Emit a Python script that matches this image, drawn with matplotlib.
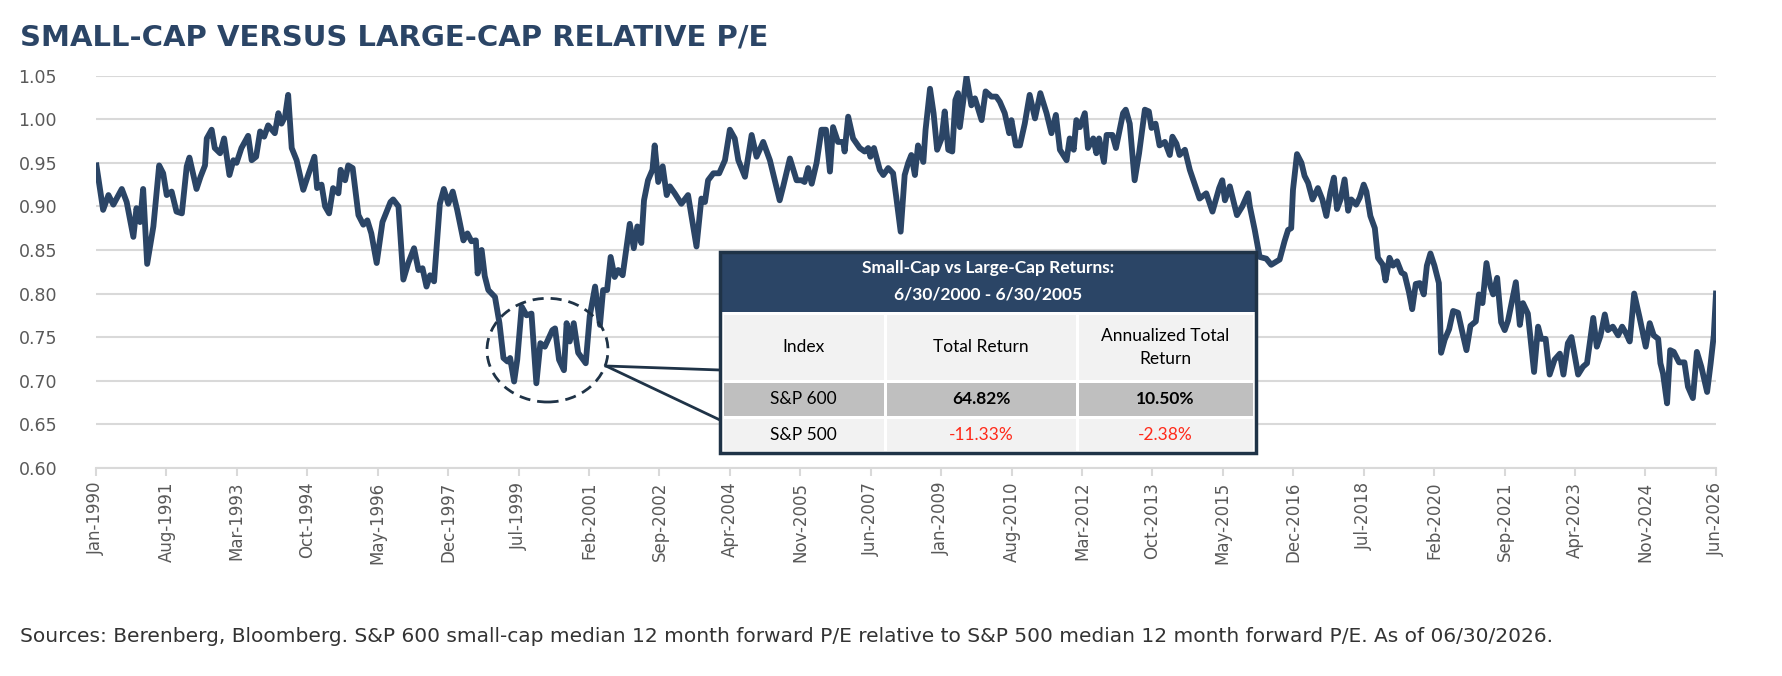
import matplotlib
matplotlib.use("Agg")
import matplotlib.pyplot as plt
from matplotlib.patches import Rectangle, Ellipse

years = [1990.01,1990.16,1990.28,1990.39,1990.58,1990.69,1990.84,1990.91,1990.99,1991.06,1991.15,1991.29,1991.42,1991.51,1991.59,1991.70,1991.81,1991.93,1992.04,1992.10,1992.26,1992.35,1992.45,1992.49,1992.60,1992.67,1992.79,1992.88,1993.00,1993.09,1993.16,1993.27,1993.42,1993.50,1993.60,1993.69,1993.78,1993.87,1994.02,1994.10,1994.17,1994.25,1994.32,1994.40,1994.51,1994.66,1994.77,1994.91,1994.97,1995.07,1995.15,1995.24,1995.33,1995.45,1995.50,1995.60,1995.67,1995.77,1995.90,1996.01,1996.10,1996.19,1996.31,
1996.44,1996.62,1996.68,1996.80,1996.91,1997.02,1997.15,1997.25,1997.34,1997.43,1997.51,1997.60,1997.73,1997.82,1997.92,1998.02,1998.12,1998.26,1998.35,1998.44,1998.54,1998.58,1998.67,1998.74,1998.82,1998.97,1999.07,1999.16,1999.25,1999.31,1999.40,1999.47,1999.57,1999.68,1999.79,1999.90,1999.99,2000.09,2000.26,2000.32,2000.41,2000.52,2000.58,2000.65,2000.74,2000.84,2001.01,2001.10,2001.22,2001.33,2001.40,2001.49,2001.57,2001.66,2001.74,2001.84,2001.93,2002.00,2002.09,2002.17,2002.26,2002.32,2002.41,2002.51,2002.56,2002.64,2002.74,2002.83,
2002.90,2003.01,2003.16,2003.31,2003.50,2003.61,2003.69,2003.76,2003.88,2004.01,2004.14,2004.25,2004.36,2004.44,2004.59,2004.74,2004.85,2005.00,2005.15,2005.26,2005.37,2005.45,2005.60,2005.75,2005.86,2005.93,2006.01,2006.09,2006.20,2006.31,2006.41,2006.50,2006.57,2006.68,2006.80,2006.83,2006.91,2007.02,2007.17,2007.28,2007.36,2007.41,2007.49,2007.62,2007.70,2007.81,2007.92,2007.99,2008.09,2008.18,2008.26,2008.33,2008.41,2008.48,2008.60,2008.65,2008.75,2008.83,2008.91,2009.01,2009.08,2009.16,2009.25,2009.32,2009.38,
2009.42,2009.57,2009.68,2009.76,2009.91,2010.00,2010.13,2010.24,2010.32,2010.43,2010.53,2010.58,2010.68,2010.77,2010.88,2010.99,2011.11,2011.23,2011.37,2011.48,2011.58,2011.67,2011.82,2011.89,2011.98,2012.04,2012.12,2012.23,2012.30,2012.42,2012.49,2012.55,2012.66,2012.72,2012.85,2012.93,2013.09,2013.15,2013.24,2013.35,2013.45,2013.58,2013.67,2013.73,2013.82,2013.91,2014.03,2014.14,2014.20,2014.29,2014.36,2014.48,2014.59,2014.81,2014.96,2015.10,2015.25,2015.32,2015.38,2015.49,2015.65,2015.77,2015.90,
2015.94,2016.05,2016.16,2016.31,2016.42,2016.61,2016.72,2016.80,2016.87,2016.91,2017.00,2017.10,2017.17,2017.25,2017.35,2017.47,2017.57,2017.66,2017.75,2017.83,2017.90,2017.98,2018.07,2018.15,2018.22,2018.33,2018.41,2018.50,2018.56,2018.65,2018.75,2018.82,2018.93,2018.99,2019.08,2019.16,2019.25,2019.35,2019.42,2019.52,2019.59,2019.67,2019.76,2019.85,2019.92,2020.00,2020.09,2020.19,2020.24,2020.32,2020.42,2020.51,2020.62,2020.72,2020.81,2020.90,2021.02,2021.09,2021.17,2021.26,2021.35,2021.41,2021.50,2021.59,
2021.67,2021.745,2021.92,2022.01,2022.08,2022.19,2022.33,2022.42,2022.49,2022.59,2022.68,2022.79,2022.91,2022.99,2023.09,2023.17,2023.32,2023.43,2023.52,2023.66,2023.74,2023.82,2023.92,2023.99,2024.10,2024.22,2024.31,2024.40,2024.48,2024.58,2024.70,2024.84,2024.93,2025.02,2025.12,2025.17,2025.23,2025.32,2025.39,2025.47,2025.59,2025.71,2025.79,2025.90,2025.99,2026.09,2026.22,2026.30,2026.37,2026.42]

values = [.947,.896,.913,.902,.92,.905,.865,.898,.882,.92,.834,.877,.947,.938,.913,.917,.894,.892,.946,.956,.92,.934,.947,.978,.988,.967,.961,.978,.936,.953,.95,.967,.981,.953,.957,.986,.98,.993,.984,1.007,.995,1.003,1.028,.967,.953,.919,.936,.957,.921,.925,.90,.892,.921,.915,.942,.93,.947,.944,.89,.879,.884,.869,.835,
.882,.905,.908,.90,.816,.835,.852,.827,.829,.808,.821,.814,.903,.92,.903,.917,.896,.861,.869,.86,.861,.823,.85,.82,.804,.796,.766,.726,.722,.726,.699,.724,.785,.775,.777,.697,.743,.739,.758,.76,.724,.712,.766,.745,.766,.732,.72,.774,.808,.764,.804,.804,.842,.819,.827,.821,.854,.88,.852,.877,.858,.907,.93,.942,.97,.928,.946,.913,
.923,.915,.903,.913,.854,.909,.905,.93,.938,.938,.953,.988,.978,.953,.934,.982,.957,.974,.953,.93,.907,.923,.955,.93,.93,.928,.944,.926,.95,.988,.988,.94,.991,.974,.974,.963,1.003,.978,.967,.963,.967,.957,.967,.942,.936,.944,.938,.911,.871,.936,.95,.959,.936,.97,.951,.988,1.035,1.007,.965,.978,1.009,.965,.963,1.022,1.03,
.991,1.049,1.016,1.024,.999,1.032,1.026,1.026,1.02,1.007,.984,.999,.97,.97,.995,1.028,1.001,1.03,1.007,.984,1.005,.965,.953,.978,.965,.999,.991,1.007,.967,.978,.961,.978,.951,.982,.982,.967,1.007,1.011,.995,.93,.961,1.011,1.009,.99,.995,.97,.974,.959,.98,.972,.959,.965,.942,.909,.915,.894,.921,.93,.907,.923,.89,.90,.915,
.90,.873,.842,.84,.833,.839,.86,.873,.875,.919,.96,.95,.935,.927,.908,.921,.908,.889,.916,.933,.897,.908,.931,.895,.908,.902,.91,.925,.917,.889,.875,.841,.833,.815,.841,.832,.837,.824,.822,.801,.782,.811,.812,.799,.832,.846,.832,.812,.732,.747,.759,.78,.778,.755,.735,.763,.768,.799,.789,.835,.808,.799,.818,.767,
.758,.769,.813,.764,.789,.777,.71,.762,.748,.748,.707,.724,.731,.707,.743,.75,.707,.716,.72,.772,.739,.751,.776,.758,.762,.752,.762,.754,.745,.80,.773,.739,.766,.752,.748,.72,.708,.674,.735,.733,.721,.721,.693,.68,.733,.716,.687,.72,.752,.80]

tick_pos = [1990 + 19 * k / 12 for k in range(24)]
tick_labels = ["Jan-1990","Aug-1991","Mar-1993","Oct-1994","May-1996","Dec-1997","Jul-1999","Feb-2001",
               "Sep-2002","Apr-2004","Nov-2005","Jun-2007","Jan-2009","Aug-2010","Mar-2012","Oct-2013",
               "May-2015","Dec-2016","Jul-2018","Feb-2020","Sep-2021","Apr-2023","Nov-2024","Jun-2026"]
y_ticks = [0.60,0.65,0.70,0.75,0.80,0.85,0.90,0.95,1.00,1.05]

table_title = ["Small-Cap vs Large-Cap Returns:", "6/30/2000 - 6/30/2005"]
table_header = ["Index", "Total Return", "Annualized Total\nReturn"]
table_rows = [["S&P 600", "64.82%", "10.50%"], ["S&P 500", "-11.33%", "-2.38%"]]

W, H = 1782, 676
fig = plt.figure(figsize=(W/100, H/100), dpi=100)
navy = "#2b4566"
grey = "#595959"

ax = fig.add_axes([96/W, 1-467.8/H, (1716-96)/W, (467.8-75.7)/H])
ax.plot(years, values, color=navy, lw=4.2, solid_joinstyle="round", zorder=3)
ax.set_xlim(1990, 2026.42)
ax.set_ylim(0.60, 1.05)
ax.set_yticks(y_ticks)
ax.set_yticklabels([f"{v:.2f}" for v in y_ticks], fontsize=12.5, color=grey)
ax.set_xticks(tick_pos)
ax.set_xticklabels(tick_labels, rotation=90, fontsize=12, color=grey)
ax.grid(axis="y", color="#d9d9d9", lw=1.5)
ax.set_axisbelow(True)
for s in ["top", "right", "left"]:
    ax.spines[s].set_visible(False)
ax.spines["bottom"].set_color("#d9d9d9")
ax.spines["bottom"].set_linewidth(1.5)
ax.tick_params(axis="y", length=0, pad=28)
ax.tick_params(axis="x", length=6, color="#d9d9d9", width=1.5, pad=4)

ell = Ellipse((2000.15, 0.735), 2.72, 0.119, fill=False, ls=(0, (4, 2.5)), lw=2, ec="#1f3347", zorder=4, clip_on=False)
ax.add_patch(ell)

ov = fig.add_axes([0, 0, 1, 1], zorder=10)
ov.set_xlim(0, W); ov.set_ylim(H, 0); ov.axis("off"); ov.patch.set_alpha(0)

ov.plot([606, 720], [366, 370], color="#1f3347", lw=2)
ov.plot([606, 720], [366, 420], color="#1f3347", lw=2)

tx0, tx1 = 720, 1256
ty0, ty1 = 252, 453
cols = [722, 885, 1077, 1254]
ov.add_patch(Rectangle((tx0, ty0), tx1-tx0, ty1-ty0, fc="white", ec="none", zorder=1))
ov.add_patch(Rectangle((tx0, ty0), tx1-tx0, 60, fc=navy, ec="none", zorder=2))
tf = ["Lato", "DejaVu Sans"]
ov.text((tx0+tx1)/2, 268, table_title[0], ha="center", va="center", color="white", fontsize=12.5, fontweight="bold", family=tf, zorder=5)
ov.text((tx0+tx1)/2, 294, table_title[1], ha="center", va="center", color="white", fontsize=12.5, fontweight="bold", family=tf, zorder=5)
rows_y = [(315, 380), (383, 416), (419, 451)]
fills = ["#f2f2f2", "#bfbfbf", "#f2f2f2"]
for r, ((y0, y1), fc) in enumerate(zip(rows_y, fills)):
    for c in range(3):
        ov.add_patch(Rectangle((cols[c]+1.5, y0), cols[c+1]-cols[c]-3, y1-y0, fc=fc, ec="none", zorder=2))
        if r == 0:
            txt, col, fw = table_header[c], "black", "normal"
        else:
            txt = table_rows[r-1][c]
            fw = "bold" if (r == 1 and c > 0) else "normal"
            col = "#ff2a1a" if (r == 2 and c > 0) else "black"
        ov.text((cols[c]+cols[c+1])/2, (y0+y1)/2, txt, ha="center", va="center", fontsize=12.5,
                color=col, fontweight=fw, family=tf, linespacing=1.5, zorder=5)
ov.add_patch(Rectangle((tx0, ty0), tx1-tx0, ty1-ty0, fc="none", ec="#1f3347", lw=2.5, zorder=6))

fig.text(20/W, 1-37/H, "SMALL-CAP VERSUS LARGE-CAP RELATIVE P/E", fontsize=21, fontweight="bold",
         color=navy, family=["Liberation Sans Narrow", "DejaVu Sans"], va="center", ha="left")
fig.text(20/W, 1-637/H, "Sources: Berenberg, Bloomberg. S&P 600 small-cap median 12 month forward P/E relative to S&P 500 median 12 month forward P/E. As of 06/30/2026.",
         fontsize=14.5, color="#333333", family=["Liberation Sans Narrow", "DejaVu Sans"], va="center", ha="left")

fig.savefig("out.png", dpi=100, facecolor="white")
